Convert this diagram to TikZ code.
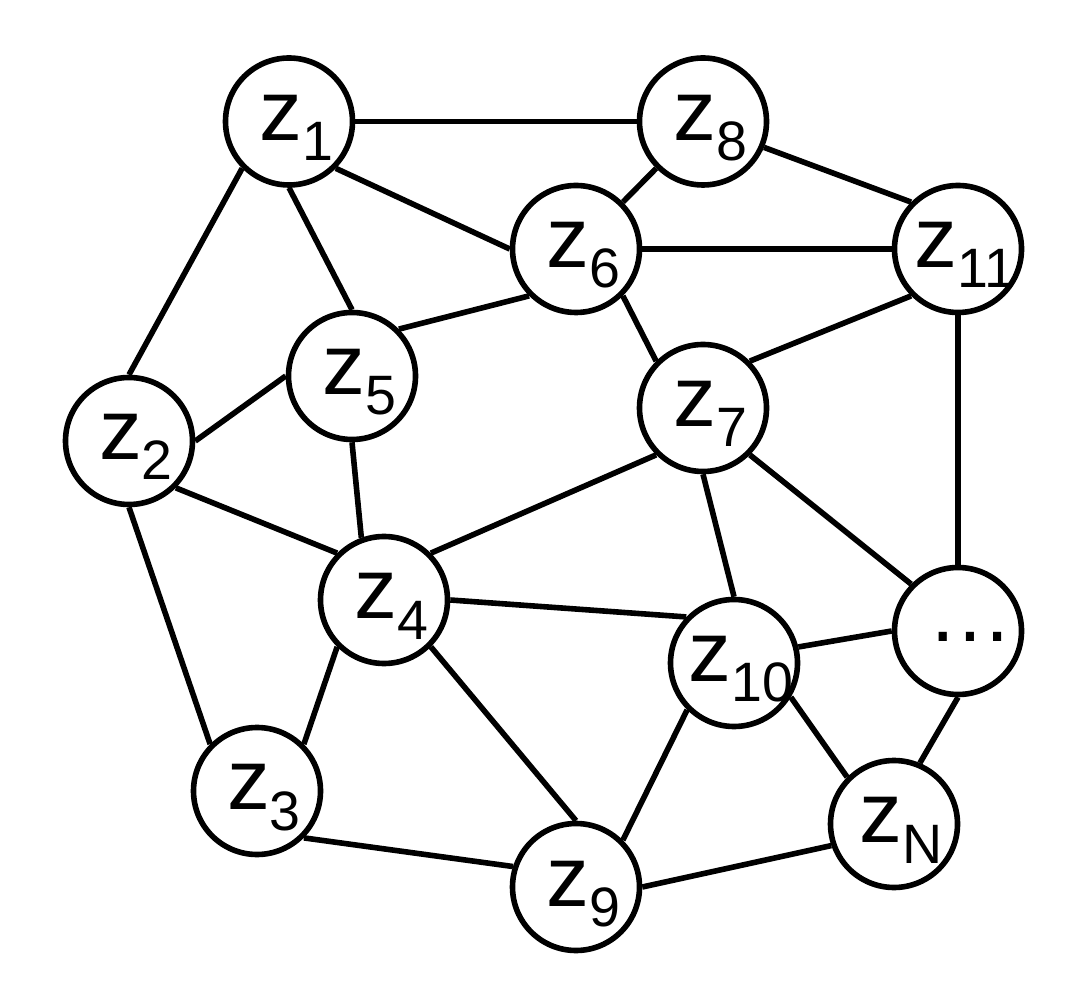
\documentclass[tikz,border=0pt]{standalone}
\usepackage{fontspec}
\setmainfont{Liberation Sans}
\usepackage{tikz}
\usetikzlibrary{arrows.meta,positioning}

% label of a vertex: z with a lowered index
\newcommand{\zlab}[1]{\makebox[0pt]{\hspace{0.14cm}\raisebox{-0.19cm}[0pt][0pt]{z\raisebox{-0.2cm}{\fontsize{15.8}{16}\selectfont #1}}}}

\begin{document}
\begin{tikzpicture}[
        vert/.style={draw,circle,fill=white,line width=0.056cm,inner sep=0pt,
                     minimum size=1.27cm,font=\fontsize{24.4}{28}\selectfont},
        edge/.style={draw,line width=0.056cm}
      ]
        \useasboundingbox[fill=white] (0,0) rectangle (10.8,9.9);
        \node[vert] (z1)  at (2.89,8.685) {\zlab{1}};
        \node[vert] (z8)  at (7.03,8.685) {\zlab{8}};
        \node[vert] (z6)  at (5.76,7.41)  {\zlab{6}};
        \node[vert] (z11) at (9.58,7.41)  {\zlab{11}};
        \node[vert] (z5)  at (3.52,6.14)  {\zlab{5}};
        \node[vert] (z2)  at (1.29,5.49)  {\zlab{2}};
        \node[vert] (z7)  at (7.03,5.82)  {\zlab{7}};
        \node[vert] (z4)  at (3.84,3.90)  {\zlab{4}};
        \node[vert] (z10) at (7.34,3.27)  {\zlab{10}};
        \node[vert] (zd)  at (9.58,3.59)  {\makebox[0pt]{\hspace{0.24cm}\raisebox{-0.11cm}[0pt][0pt]{…}}};
        \node[vert] (z3)  at (2.57,1.99)  {\zlab{3}};
        \node[vert] (z9)  at (5.76,1.03)  {\zlab{9}};
        \node[vert] (zN)  at (8.94,1.66)  {\zlab{N}};
        % connectors
        \draw[edge] (z1.east) -- (z8.west);
        \draw[edge] (z1.south east) -- (z6.west);
        \draw[edge] (z1.south) -- (z5.north);
        \draw[edge] (z1.south west) -- (z2.north);
        \draw[edge] (z8.south west) -- (z6.north east);
        \draw[edge] (z8.-23) -- (z11.north west);
        \draw[edge] (z6.east) -- (z11.west);
        \draw[edge] (z6.south west) -- (z5.north east);
        \draw[edge] (z6.south east) -- (z7.north west);
        \draw[edge] (z11.south west) -- (z7.north east);
        \draw[edge] (z11.south) -- (zd.north);
        \draw[edge] (z2.east) -- (z5.west);
        \draw[edge] (z2.south east) -- (z4.north west);
        \draw[edge] (z2.south) -- (z3.north west);
        \draw[edge] (z5.south) -- (z4.110);
        \draw[edge] (z7.south west) -- (z4.north east);
        \draw[edge] (z7.south) -- (z10.north);
        \draw[edge] (z7.south east) -- (zd.north west);
        \draw[edge] (z4.east) -- (z10.136);
        \draw[edge] (z4.south west) -- (z3.north east);
        \draw[edge] (z4.south east) -- (z9.north);
        \draw[edge] (z3.south east) -- (z9.162);
        \draw[edge] (z9.north east) -- (z10.south west);
        \draw[edge] (z9.east) -- (zN.199);
        \draw[edge] (z10.14) -- (zd.west);
        \draw[edge] (z10.-31) -- (zN.north west);
        \draw[edge] (zd.south) -- (zN.67);
      \end{tikzpicture}
\end{document}
